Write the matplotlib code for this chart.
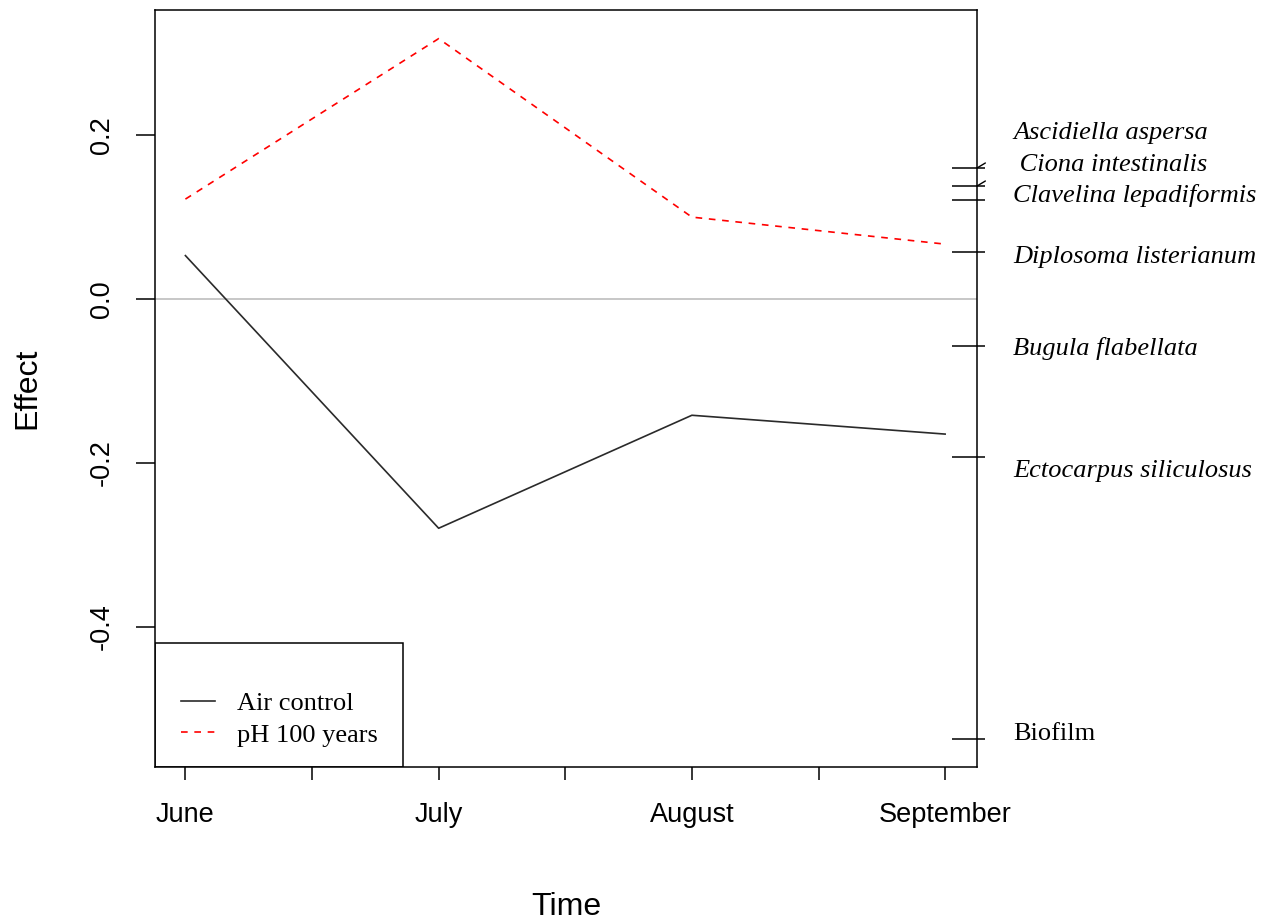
import matplotlib
matplotlib.use("Agg")
import matplotlib.pyplot as plt
from matplotlib.patches import Rectangle
from matplotlib.transforms import blended_transform_factory

# data
months = ["June", "July", "August", "September"]
month_pos = [1, 2, 3, 4]
air_control = [0.053, -0.280, -0.142, -0.165]
ph_100_years = [0.122, 0.318, 0.100, 0.067]

species = ["Ascidiella aspersa", " Ciona intestinalis", "Clavelina lepadiformis",
           "Diplosoma listerianum", "Bugula flabellata", "Ectocarpus siliculosus",
           "Biofilm"]
species_effect = [0.160, 0.138, 0.121, 0.058, -0.057, -0.193, -0.537]
# baseline position of each species label (spread out so they don't overlap)
species_label_y = [0.195, 0.156, 0.119, 0.044, -0.068, -0.217, -0.539]
species_italic = [True, True, True, True, True, True, False]
leader_species = [0, 1]

sans = ["Liberation Sans", "DejaVu Sans"]
serif = ["Liberation Serif", "DejaVu Serif"]
plt.rcParams["font.family"] = sans

fig = plt.figure(figsize=(12.77, 9.22), dpi=100)
ax = fig.add_axes([0.1214, 0.1681, 0.6437, 0.8211])

ax.axhline(0, color="#bebebe", lw=1.2, zorder=1)
ax.plot(month_pos, air_control, color="#2a2a2a", lw=1.2, label="Air control")
ax.plot(month_pos, ph_100_years, color="red", lw=1.2, dashes=(4, 4),
        label="pH 100 years")

ax.set_xlim(0.88, 4.126)
ax.set_ylim(-0.5716, 0.353)

ax.set_xticks(month_pos)
ax.set_xticklabels(months)
ax.set_xticks([1.5, 2.5, 3.5], minor=True)
ax.set_yticks([-0.4, -0.2, 0.0, 0.2])
ax.set_yticklabels(["-0.4", "-0.2", "0.0", "0.2"], rotation=90, va="center")
ax.tick_params(axis="x", which="both", length=9.5, width=1.1, pad=16,
               labelsize=19.5, direction="out")
ax.tick_params(axis="y", which="both", length=13.7, width=1.1, pad=15,
               labelsize=19.5, direction="out", right=False)
for s in ax.spines.values():
    s.set_linewidth(1.1)

ax.set_xlabel("Time", fontsize=23, labelpad=46)
ax.set_ylabel("Effect", fontsize=23, labelpad=34)

# species ticks on the right spine
twin = ax.twinx()
twin.set_ylim(ax.get_ylim())
twin.yaxis.remove_overlapping_locs = False
twin.set_yticks(species_effect)
twin.set_yticks(species_effect, minor=True)
twin.set_yticklabels([])
twin.set_yticklabels([], minor=True)
twin.tick_params(axis="y", which="major", direction="in", length=18, width=1.1)
twin.tick_params(axis="y", which="minor", direction="out", length=6, width=1.1)
for s in twin.spines.values():
    s.set_visible(False)

trans = blended_transform_factory(ax.transAxes, ax.transData)
for i, (name, ly) in enumerate(zip(species, species_label_y)):
    ax.text(1.044, ly, name, transform=trans, ha="left", va="baseline",
            fontsize=19, family=serif,
            style="italic" if species_italic[i] else "normal")
for i in leader_species:
    ax.annotate("", xy=(1, species_effect[i]), xycoords=trans,
                xytext=(6, 3.6), textcoords="offset points",
                arrowprops=dict(arrowstyle="-", lw=1.0, color="black",
                                shrinkA=0, shrinkB=0))

# legend box in the bottom-left corner
ax.add_patch(Rectangle((0, 0), 0.3017, 0.1638, transform=ax.transAxes,
                       fill=False, edgecolor="black", lw=1.1, zorder=3))
ax.legend(loc="lower left", bbox_to_anchor=(0.007, 0.0), frameon=False,
          prop={"family": serif, "size": 19}, handlelength=1.3,
          handletextpad=0.8, labelspacing=0.3, borderaxespad=0.55,
          borderpad=0.22)

fig.savefig("out.png", dpi=100)
